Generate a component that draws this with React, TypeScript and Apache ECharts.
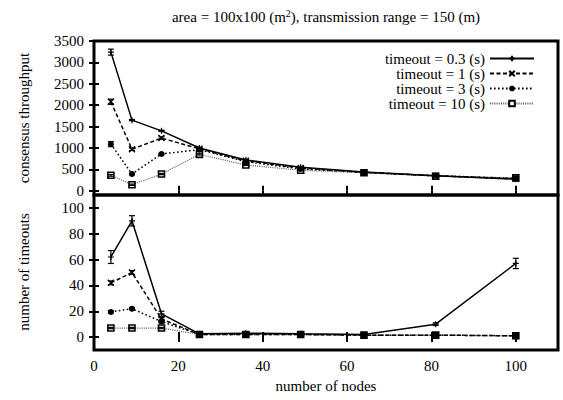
import React, { useEffect, useRef } from "react";
import * as echarts from "echarts";

const nodes = [4, 9, 16, 25, 36, 49, 64, 81, 100];
const seriesNames = ["timeout = 0.3 (s)", "timeout = 1 (s)", "timeout = 3 (s)", "timeout = 10 (s)"];

const throughput03 = [3240, 1650, 1400, 1000, 720, 550, 440, 350, 270];
const throughput1 = [2080, 970, 1230, 980, 700, 530, 430, 350, 280];
const throughput3 = [1090, 390, 860, 960, 680, 510, 430, 350, 290];
const throughput10 = [360, 140, 390, 850, 600, 480, 420, 340, 300];

const throughputErr03 = [70, 15, 15, 10, 10, 10, 10, 10, 10];
const throughputErr1 = [60, 30, 30, 10, 10, 10, 10, 10, 10];
const throughputErr3 = [60, 20, 15, 10, 10, 10, 10, 10, 10];
const throughputErr10 = [20, 15, 15, 15, 10, 10, 10, 10, 10];

const timeouts03 = [62, 90, 18, 2.5, 3, 2.5, 2, 10, 57];
const timeouts1 = [42, 50, 14, 2, 2, 2, 1.5, 1.5, 1];
const timeouts3 = [19.5, 22, 12, 2, 2, 2, 1.5, 1.5, 1];
const timeouts10 = [7, 7, 7, 2, 2, 2, 1.5, 1.5, 1];

const timeoutsErr03 = [5, 4, 2, 0.5, 0.5, 0.5, 0.5, 1, 4];
const timeoutsErr1 = [1.5, 1.5, 1, 0.5, 0.5, 0.5, 0.5, 0.5, 0.5];
const timeoutsErr3 = [1, 1, 1, 0.5, 0.5, 0.5, 0.5, 0.5, 0.5];
const timeoutsErr10 = [0.5, 0.5, 0.5, 0.5, 0.5, 0.5, 0.5, 0.5, 0.5];

const xTicks = [0, 20, 40, 60, 80, 100];
const yTopTicks = [0, 500, 1000, 1500, 2000, 2500, 3000, 3500];
const yBottomTicks = [0, 20, 40, 60, 80, 100];

const FONT = "'Liberation Serif', 'Times New Roman', 'DejaVu Serif', serif";
const FS = 15;

const symbols = [
  "path://M0,5L10,5M5,0L5,10",
  "path://M0,0L10,10M10,0L0,10",
  "path://M0,5L10,5M5,0L5,10M1.5,1.5L8.5,8.5M8.5,1.5L1.5,8.5",
  "path://M0,0L10,0L10,10L0,10Z",
];
const lineStyles: any[] = [
  { color: "#000", width: 1.5, type: "solid" },
  { color: "#000", width: 1.5, type: [4, 2.5] },
  { color: "#000", width: 1.5, type: [1.6, 2.4] },
  { color: "#555", width: 1.2, type: [1, 1.2] },
];
const itemStyles: any[] = [
  { color: "#000", borderColor: "#000", borderWidth: 1.2 },
  { color: "#000", borderColor: "#000", borderWidth: 1.4 },
  { color: "#000", borderColor: "#000", borderWidth: 1.8 },
  { color: "#fff", borderColor: "#000", borderWidth: 1.6 },
];

export default function App() {
  const ref = useRef<HTMLDivElement>(null);
  useEffect(() => {
    if (!ref.current) return;
    const chart = echarts.init(ref.current, null, { renderer: "svg" });
    const topVals = [throughput03, throughput1, throughput3, throughput10];
    const topErrs = [throughputErr03, throughputErr1, throughputErr3, throughputErr10];
    const botVals = [timeouts03, timeouts1, timeouts3, timeouts10];
    const botErrs = [timeoutsErr03, timeoutsErr1, timeoutsErr3, timeoutsErr10];

    const errSeries = (vals: number[], errs: number[], xi: number, yi: number) => ({
      type: "custom",
      xAxisIndex: xi,
      yAxisIndex: yi,
      silent: true,
      z: 4,
      encode: { x: 0, y: [1, 2] },
      data: nodes.map((n, i) => [n, vals[i] - errs[i], vals[i] + errs[i]]),
      renderItem: (params: any, api: any) => {
        const lo = api.coord([api.value(0), api.value(1)]);
        const hi = api.coord([api.value(0), api.value(2)]);
        const w = 3;
        const st = { stroke: "#000", lineWidth: 1.2 };
        return {
          type: "group",
          children: [
            { type: "line", shape: { x1: lo[0], y1: lo[1], x2: hi[0], y2: hi[1] }, style: st },
            { type: "line", shape: { x1: lo[0] - w, y1: lo[1], x2: lo[0] + w, y2: lo[1] }, style: st },
            { type: "line", shape: { x1: hi[0] - w, y1: hi[1], x2: hi[0] + w, y2: hi[1] }, style: st },
          ],
        };
      },
    });

    const series: any[] = [];
    seriesNames.forEach((name, k) => {
      series.push({
        type: "line",
        name,
        xAxisIndex: 0,
        yAxisIndex: 0,
        data: nodes.map((n, i) => [n, topVals[k][i]]),
        symbol: symbols[k],
        symbolSize: 6,
        showAllSymbol: true,
        lineStyle: lineStyles[k],
        itemStyle: itemStyles[k],
        z: 5 - k,
      });
      series.push(errSeries(topVals[k], topErrs[k], 0, 0));
      series.push({
        type: "line",
        name,
        xAxisIndex: 2,
        yAxisIndex: 2,
        data: nodes.map((n, i) => [n, botVals[k][i]]),
        symbol: symbols[k],
        symbolSize: 6,
        showAllSymbol: true,
        lineStyle: lineStyles[k],
        itemStyle: itemStyles[k],
        z: 5 - k,
      });
      series.push(errSeries(botVals[k], botErrs[k], 2, 2));
    });

    const tick = (vals: number[]) => ({
      show: true,
      inside: true,
      length: 5,
      lineStyle: { color: "#000", width: 2 },
      customValues: vals,
    });
    const label = (vals: number[], show: boolean, margin: number) => ({
      show,
      customValues: vals,
      color: "#000",
      fontFamily: FONT,
      fontSize: FS,
      margin,
      formatter: (v: number) => String(v),
    });
    const xAx = (grid: number, pos: string, showLabel: boolean) => ({
      type: "value",
      gridIndex: grid,
      position: pos,
      min: 0,
      max: 110,
      axisLine: { show: false },
      axisTick: tick(xTicks),
      axisLabel: label(xTicks, showLabel, 8),
      splitLine: { show: false },
    });
    const yAx = (grid: number, pos: string, min: number, max: number, vals: number[], showLabel: boolean) => ({
      type: "value",
      gridIndex: grid,
      position: pos,
      min,
      max,
      axisLine: { show: false },
      axisTick: tick(vals),
      axisLabel: label(vals, showLabel, 10),
      splitLine: { show: false },
    });

    chart.setOption({
      animation: false,
      backgroundColor: "#fff",
      textStyle: { fontFamily: FONT, color: "#000" },
      grid: [
        { left: 94, top: 41, width: 464, height: 154, show: true, borderColor: "#000", borderWidth: 3, backgroundColor: "transparent" },
        { left: 94, top: 195, width: 464, height: 155, show: true, borderColor: "#000", borderWidth: 3, backgroundColor: "transparent" },
      ],
      xAxis: [xAx(0, "bottom", false), xAx(0, "top", false), xAx(1, "bottom", true), xAx(1, "top", false)],
      yAxis: [
        yAx(0, "left", -100, 3500, yTopTicks, true),
        yAx(0, "right", -100, 3500, yTopTicks, false),
        yAx(1, "left", -10, 110, yBottomTicks, true),
        yAx(1, "right", -10, 110, yBottomTicks, false),
      ],
      legend: {
        data: seriesNames,
        orient: "vertical",
        align: "right",
        right: 23,
        top: 46,
        itemWidth: 44,
        itemHeight: 7,
        itemGap: 0,
        selectedMode: false,
        textStyle: { fontFamily: FONT, fontSize: FS, color: "#000", lineHeight: 14 },
      },
      graphic: [
        {
          type: "text",
          x: 326,
          y: 17,
          style: {
            text: "{a|area = 100x100 (m}{s|2}{a|), transmission range = 150 (m)}",
            align: "center",
            verticalAlign: "middle",
            rich: {
              a: { fontFamily: FONT, fontSize: FS, fill: "#000", lineHeight: 18 },
              s: { fontFamily: FONT, fontSize: 10, fill: "#000", lineHeight: 18, verticalAlign: "top" },
            },
          },
        },
        {
          type: "text",
          x: 24,
          y: 118,
          rotation: Math.PI / 2,
          style: { text: "consensus throughput", fontFamily: FONT, fontSize: FS, fill: "#000", align: "center", verticalAlign: "middle" },
        },
        {
          type: "text",
          x: 24,
          y: 272,
          rotation: Math.PI / 2,
          style: { text: "number of timeouts", fontFamily: FONT, fontSize: FS, fill: "#000", align: "center", verticalAlign: "middle" },
        },
        {
          type: "text",
          x: 326,
          y: 386,
          style: { text: "number of nodes", fontFamily: FONT, fontSize: FS, fill: "#000", align: "center", verticalAlign: "middle" },
        },
      ],
      series,
    });
    return () => chart.dispose();
  }, []);
  return <div ref={ref} style={{ width: 563, height: 400, position: "absolute", left: 0, top: 0 }} />;
}
